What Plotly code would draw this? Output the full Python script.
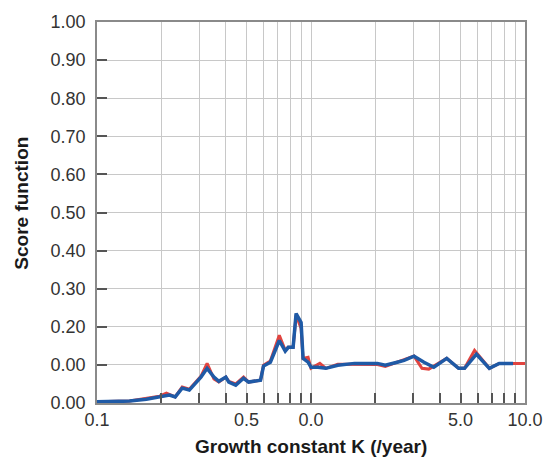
import plotly.graph_objects as go

# Growth constant K (/year) and score function values for the two fits
k_blue = [0.100, 0.142, 0.170, 0.196, 0.218, 0.232, 0.250, 0.270, 0.290, 0.306,
          0.327, 0.352, 0.371, 0.400, 0.413, 0.445, 0.484, 0.511, 0.581, 0.600,
          0.646, 0.711, 0.758, 0.783, 0.825, 0.852, 0.899, 0.918, 0.969, 1.000,
          1.077, 1.173, 1.334, 1.599, 2.042, 2.224, 2.528, 2.723, 3.030, 3.372,
          3.750, 4.308, 4.894, 5.220, 5.933, 6.813, 7.578, 8.799]
score_blue = [0.003, 0.005, 0.010, 0.016, 0.021, 0.016, 0.039, 0.034, 0.052, 0.068,
              0.091, 0.068, 0.057, 0.068, 0.055, 0.047, 0.065, 0.055, 0.060, 0.097,
              0.107, 0.164, 0.136, 0.146, 0.146, 0.235, 0.211, 0.117, 0.107, 0.094,
              0.094, 0.091, 0.099, 0.104, 0.104, 0.099, 0.107, 0.112, 0.123, 0.107,
              0.094, 0.117, 0.091, 0.091, 0.128, 0.091, 0.104, 0.104]

k_red = [0.100, 0.142, 0.196, 0.211, 0.232, 0.250, 0.270, 0.290, 0.306, 0.327,
         0.352, 0.371, 0.400, 0.413, 0.445, 0.484, 0.511, 0.581, 0.600, 0.646,
         0.711, 0.758, 0.783, 0.825, 0.852, 0.899, 0.918, 0.969, 1.000, 1.100,
         1.173, 1.334, 2.042, 2.224, 2.528, 3.030, 3.300, 3.550, 4.308, 4.894,
         5.220, 5.810, 6.813, 7.578, 8.799, 10.000]
score_red = [0.003, 0.005, 0.018, 0.026, 0.016, 0.042, 0.036, 0.056, 0.070, 0.104,
             0.063, 0.055, 0.068, 0.057, 0.050, 0.068, 0.055, 0.060, 0.099, 0.110,
             0.178, 0.138, 0.146, 0.146, 0.230, 0.196, 0.117, 0.120, 0.091, 0.104,
             0.091, 0.102, 0.101, 0.096, 0.107, 0.123, 0.091, 0.089, 0.117, 0.091,
             0.091, 0.138, 0.091, 0.104, 0.104, 0.104]

# Axis ticks and their labels
x_tick_vals = [0.1, 0.2, 0.3, 0.4, 0.5, 0.6, 0.7, 0.8, 0.9,
               1, 2, 3, 4, 5, 6, 7, 8, 9, 10]
x_tick_text = ["0.1", "", "", "", "0.5", "", "", "", "",
               "0.0", "", "", "", "5.0", "", "", "", "", "10.0"]
y_tick_vals = [0.0, 0.1, 0.2, 0.3, 0.4, 0.5, 0.6, 0.7, 0.8, 0.9, 1.0]
y_tick_text = ["0.00", "0.00", "0.20", "0.30", "0.40", "0.50",
               "0.60", "0.70", "0.80", "0.90", "1.00"]

FONT = "Liberation Sans, Arial, sans-serif"
GRID = "#c8c8c8"
TICK = "#555555"

fig = go.Figure()
fig.add_trace(go.Scatter(x=k_red, y=score_red, mode="lines",
                         line=dict(color="#e2443f", width=3),
                         showlegend=False))
fig.add_trace(go.Scatter(x=k_blue, y=score_blue, mode="lines",
                         line=dict(color="#1f5aa6", width=3.5),
                         showlegend=False))

fig.update_layout(
    width=555, height=460, autosize=False,
    margin=dict(l=97, r=26, t=20, b=57),
    paper_bgcolor="white", plot_bgcolor="white",
    font=dict(family=FONT, size=18, color="#333333"),
    xaxis=dict(type="log", range=[-1, 1],
               tickmode="array", tickvals=x_tick_vals, ticktext=x_tick_text,
               showgrid=True, gridcolor=GRID, gridwidth=1,
               ticks="inside", ticklen=10, tickcolor=TICK, tickwidth=1.5,
               showline=True, linecolor="#8a8a8a", linewidth=1.5, mirror=True,
               zeroline=False, tickfont=dict(size=18, color="#333333")),
    yaxis=dict(range=[0, 1],
               tickmode="array", tickvals=y_tick_vals, ticktext=y_tick_text,
               showgrid=True, gridcolor=GRID, gridwidth=1,
               ticks="inside", ticklen=10, tickcolor=TICK, tickwidth=1.5,
               showline=True, linecolor="#8a8a8a", linewidth=1.5, mirror=True,
               zeroline=False, ticklabelstandoff=6,
               tickfont=dict(size=18, color="#333333")),
    annotations=[
        dict(text="<b>Growth constant K (/year)</b>", xref="paper", yref="paper",
             x=0.5, y=-0.115, xanchor="center", yanchor="middle", showarrow=False,
             font=dict(family=FONT, size=19, color="#1a1a1a")),
        dict(text="<b>Score function</b>", xref="paper", yref="paper",
             x=-0.176, y=0.525, xanchor="center", yanchor="middle", showarrow=False,
             textangle=-90, font=dict(family=FONT, size=19, color="#1a1a1a")),
    ],
)

fig.write_html("out.html")
